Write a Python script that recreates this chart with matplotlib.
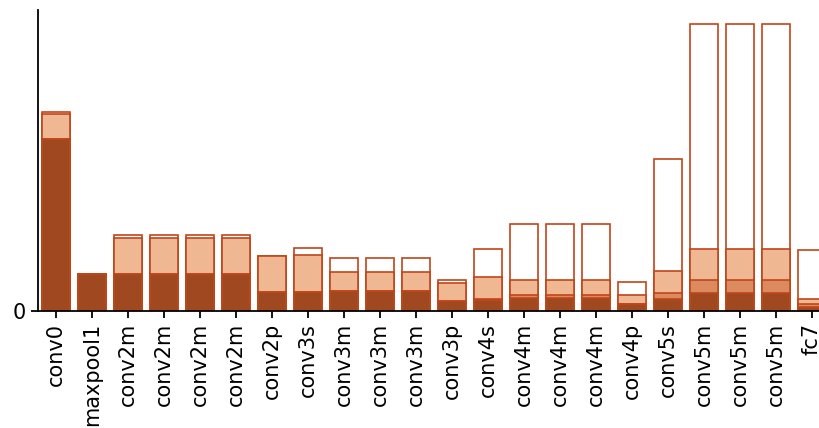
import matplotlib
matplotlib.use("Agg")
import matplotlib.pyplot as plt
import numpy as np

layers = ["conv0", "maxpool1", "conv2m", "conv2m", "conv2m", "conv2m", "conv2p",
          "conv3s", "conv3m", "conv3m", "conv3m", "conv3p", "conv4s", "conv4m",
          "conv4m", "conv4m", "conv4p", "conv5s", "conv5m", "conv5m", "conv5m", "fc7"]

# memory per layer, overlaid from largest (outline) to smallest (dark)
total = [199, 36.7, 76.4, 76.4, 76.4, 76.4, 55, 63, 53.4, 53.4, 53.4, 31, 62,
         87.4, 87.4, 87.4, 29, 152, 286.7, 286.7, 286.7, 60.7]
light = [197.5, 36.7, 73, 73, 73, 73, 55, 56, 39.4, 39.4, 39.4, 28, 33.7,
         31.4, 31.4, 31.4, 16.4, 40.4, 62, 62, 62, 11.7]
medium = [171.7, 36.7, 36.7, 36.7, 36.7, 36.7, 18.7, 19.4, 19.7, 19.7, 19.7, 9.7, 12.4,
          15.7, 15.7, 15.7, 7.5, 17.7, 31, 31, 31, 6.7]
dark = [171.7, 36.7, 36.7, 36.7, 36.7, 36.7, 18.7, 19.4, 19.7, 19.7, 19.7, 9.7, 10.7,
        13, 13, 13, 6.7, 11.7, 18, 18, 18, 4]

edge = "#c0461a"
W, H = 820, 428
fig = plt.figure(figsize=(W / 100, H / 100), dpi=100)
ax = fig.add_axes([38 / W, 117 / H, 792 / W, 301 / H])

x = np.arange(len(layers))
for vals, col in [(total, "white"), (light, "#f0b892"), (medium, "#dc8a60"), (dark, "#a04920")]:
    ax.bar(x, vals, width=0.8, color=col, edgecolor=edge, linewidth=1.2)

ax.set_xlim(-0.5, len(layers) - 0.5)
ax.set_ylim(0, 301)
ax.set_xticks(x)
ax.set_xticklabels(layers, rotation=90, fontsize=15)
ax.set_yticks([0])
ax.set_yticklabels(["0"], fontsize=15)
ax.tick_params(axis="both", length=5, width=1.3)
for s in ["top", "right"]:
    ax.spines[s].set_visible(False)
for s in ["left", "bottom"]:
    ax.spines[s].set_linewidth(1.3)

fig.savefig("out.png", dpi=100)
